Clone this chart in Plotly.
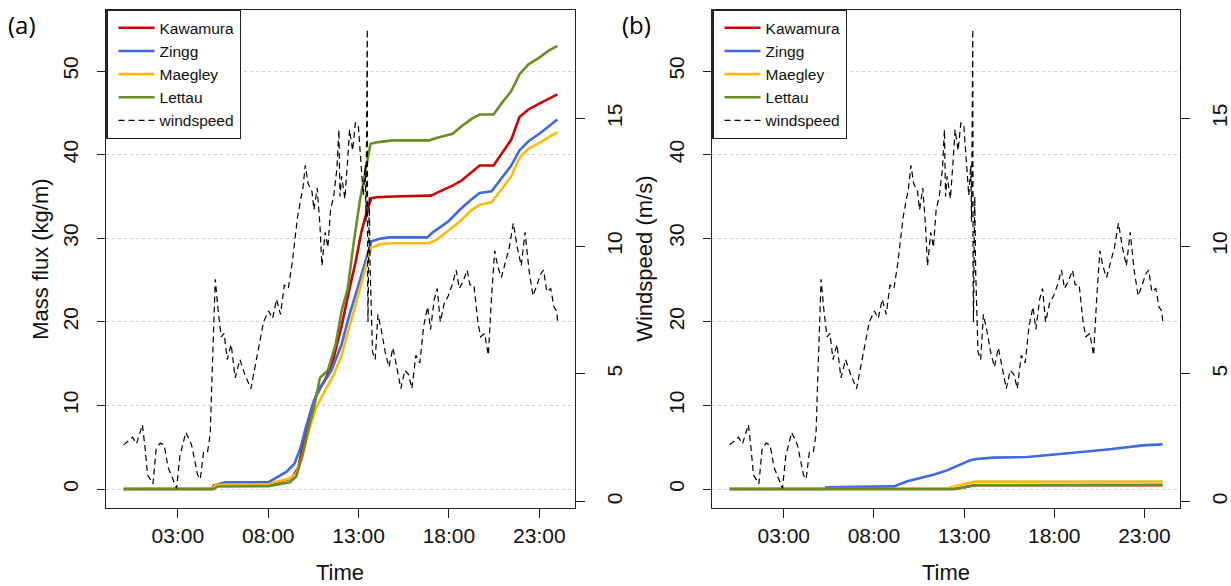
import plotly.graph_objects as go

W, H = 1231, 586

# ---------------- data ----------------
wind_t = [0.00, 0.27, 0.49, 0.71, 0.88, 1.04, 1.19, 1.32, 1.62, 1.80, 2.02, 2.24, 2.46, 2.78, 2.93,
          3.11, 3.44, 3.76, 4.09, 4.24, 4.42, 4.64, 4.79, 4.86, 4.97, 5.07, 5.23, 5.40, 5.56, 5.73,
          5.95, 6.17, 6.43, 6.71, 7.04, 7.30, 7.52, 7.74, 8.02, 8.24, 8.46, 8.68, 8.89, 9.11, 9.33,
          9.49, 9.62, 9.77, 9.92, 10.05, 10.21, 10.42, 10.53, 10.71, 10.86, 10.97, 11.15, 11.30,
          11.45, 11.63, 11.80, 11.91, 11.97, 12.06, 12.24, 12.39, 12.50, 12.67, 12.82, 12.98, 13.15,
          13.26, 13.37, 13.41, 13.46, 13.48, 13.50, 13.52, 13.59, 13.64, 13.77, 13.92, 14.07, 14.25,
          14.47, 14.68, 14.90, 15.12, 15.34, 15.56, 15.77, 15.95, 16.17, 16.39, 16.60, 16.82, 16.98,
          17.19, 17.35, 17.52, 17.74, 17.96, 18.18, 18.40, 18.57, 18.79, 19.01, 19.16, 19.38, 19.60,
          19.75, 19.97, 20.18, 20.36, 20.53, 20.69, 20.90, 21.12, 21.34, 21.56, 21.78, 22.00, 22.21,
          22.43, 22.65, 22.87, 23.09, 23.24, 23.41, 23.63, 23.81, 23.96, 24.02]
wind_v = [2.22, 2.39, 2.52, 2.26, 2.65, 3.01, 2.06, 1.05, 0.69, 2.06, 2.29, 2.22, 1.34, 0.82, 0.52,
          1.77, 2.71, 2.22, 1.05, 0.88, 1.93, 1.93, 2.65, 4.25, 6.45, 8.70, 7.46, 6.45, 6.58, 5.56,
          6.15, 4.84, 5.56, 4.97, 4.42, 5.43, 6.31, 7.03, 7.46, 7.17, 7.92, 7.33, 8.48, 8.34, 9.36,
          10.24, 11.13, 11.72, 12.27, 13.16, 12.44, 12.14, 11.42, 12.27, 10.83, 9.23, 10.54, 9.95,
          11.42, 11.98, 13.02, 14.56, 11.94, 12.73, 11.85, 13.32, 14.56, 13.74, 14.82, 14.76, 12.86,
          11.98, 13.16, 10.96, 16.23, 18.49, 8.67, 7.03, 11.94, 9.06, 5.86, 5.56, 7.33, 6.74,
          5.86, 5.27, 6.02, 5.27, 4.42, 5.14, 4.97, 4.42, 5.73, 5.43, 6.87, 7.62, 6.74,
          7.92, 8.34, 7.03, 7.76, 8.05, 8.48, 9.06, 8.34, 8.64, 9.06, 8.48, 8.48, 7.03,
          6.45, 6.58, 5.73, 8.05, 9.82, 9.23, 8.77, 9.36, 9.95, 10.90, 9.95, 9.23, 10.54,
          9.06, 8.05, 8.48, 8.93, 9.06, 8.21, 8.34, 7.62, 7.46, 7.03]

# panel (a) mass flux
kaw_a_t = [0, 4.9, 5.0, 8.0, 8.8, 9.3, 9.66, 10.0, 10.3, 10.7, 11.2, 11.6, 12.06, 12.5, 12.83, 13.15,
           13.48, 13.7, 14.0, 14.9, 17.0, 17.5, 18.2, 18.7, 19.3, 19.7, 20.47, 20.9, 21.45, 21.9,
           22.4, 23.0, 23.6, 24.0]
kaw_a_v = [0, 0, 0.45, 0.5, 1.0, 1.25, 2.6, 5.7, 8.8, 11.5, 13.3, 15.5, 19.5, 24.0, 27.1, 30.7,
           33.4, 34.8, 34.9, 35.0, 35.1, 35.6, 36.3, 36.9, 38.0, 38.7, 38.7, 40.1, 41.8, 44.5,
           45.4, 46.1, 46.8, 47.2]
zin_a_t = [0, 4.9, 5.1, 5.6, 8.0, 8.35, 9.0, 9.44, 9.77, 10.1, 10.53, 10.97, 11.5, 12.06, 12.5,
           12.94, 13.37, 13.7, 14.1, 14.7, 16.8, 17.1, 17.96, 18.6, 19.27, 19.7, 20.36, 20.9,
           21.45, 21.9, 22.4, 23.0, 23.5, 24.0]
zin_a_v = [0, 0, 0.5, 0.8, 0.8, 1.25, 2.05, 3.0, 4.8, 7.5, 10.6, 12.4, 14.2, 17.3, 20.9,
           24.0, 27.1, 29.6, 29.9, 30.1, 30.1, 30.7, 32.0, 33.4, 34.7, 35.4, 35.6, 37.2,
           38.7, 40.5, 41.6, 42.5, 43.4, 44.2]
mae_a_t = [0, 4.9, 5.1, 8.0, 8.35, 9.2, 9.55, 9.88, 10.2, 10.64, 11.08, 11.63, 12.06, 12.5, 12.94,
           13.37, 13.7, 14.25, 14.9, 16.9, 17.3, 17.96, 18.6, 19.27, 19.7, 20.36, 20.9, 21.45,
           21.9, 22.4, 23.0, 23.5, 24.0]
mae_a_v = [0, 0, 0.5, 0.55, 0.8, 1.25, 1.9, 3.9, 6.6, 9.7, 11.5, 13.7, 16.0, 19.5, 23.1,
           26.2, 28.9, 29.3, 29.4, 29.4, 29.8, 30.9, 32.0, 33.4, 34.0, 34.3, 35.8, 37.4,
           39.6, 40.7, 41.4, 42.1, 42.7]
let_a_t = [0, 5.0, 5.2, 8.0, 9.2, 9.55, 9.88, 10.2, 10.53, 10.86, 11.3, 11.73, 12.06, 12.4, 12.72,
           13.05, 13.37, 13.66, 14.1, 14.9, 16.9, 17.3, 18.2, 18.7, 19.27, 19.7, 20.47, 20.9,
           21.45, 21.9, 22.4, 23.0, 23.5, 24.0]
let_a_v = [0, 0, 0.3, 0.35, 0.8, 1.5, 3.9, 7.0, 9.7, 13.3, 14.2, 17.3, 21.3, 24.0, 29.3,
           34.2, 38.0, 41.3, 41.5, 41.7, 41.7, 42.0, 42.5, 43.4, 44.3, 44.8, 44.8, 46.1,
           47.6, 49.6, 50.8, 51.6, 52.4, 53.0]

# panel (b) mass flux
kaw_b_t = [0, 12.5, 13.6, 24.0]
kaw_b_v = [0, 0, 0.45, 0.45]
zin_b_t = [0, 5.3, 5.35, 9.1, 9.85, 10.6, 11.3, 12.05, 12.8, 13.34, 13.7, 14.6, 16.5, 17.4, 18.3,
           19.2, 20.1, 21.2, 22.2, 22.9, 24.0]
zin_b_v = [0, 0, 0.2, 0.32, 0.92, 1.32, 1.71, 2.23, 2.91, 3.43, 3.59, 3.75, 3.83, 3.99, 4.15,
           4.31, 4.55, 4.78, 5.02, 5.22, 5.34]
mae_b_t = [0, 11.96, 12.6, 13.16, 13.6, 24.0]
mae_b_v = [0, 0, 0.4, 0.64, 0.88, 0.9]
let_b_t = [0, 12.5, 12.8, 13.2, 13.6, 24.0]
let_b_v = [0, 0, 0.12, 0.32, 0.48, 0.52]

tick_hours = [3, 8, 13, 18, 23]
tick_text = ["03:00", "08:00", "13:00", "18:00", "23:00"]
left_ticks = [0, 10, 20, 30, 40, 50]
right_ticks = [0, 5, 10, 15]

names = ["Kawamura", "Zingg", "Maegley", "Lettau"]
colors = ["#CD0000", "#4169E1", "#FFB90F", "#6B8E23"]

FONT = "Liberation Sans, Arial, sans-serif"

fig = go.Figure()

panel_a = [(kaw_a_t, kaw_a_v), (zin_a_t, zin_a_v), (mae_a_t, mae_a_v), (let_a_t, let_a_v)]
panel_b = [(kaw_b_t, kaw_b_v), (zin_b_t, zin_b_v), (mae_b_t, mae_b_v), (let_b_t, let_b_v)]

for (t, v), n, c in zip(panel_a, names, colors):
    fig.add_trace(go.Scatter(x=t, y=v, mode="lines", name=n, line=dict(color=c, width=2.6),
                             xaxis="x", yaxis="y", legend="legend"))
fig.add_trace(go.Scatter(x=wind_t, y=wind_v, mode="lines", name="windspeed",
                         line=dict(color="black", width=1.2, dash="6px,4px"),
                         xaxis="x", yaxis="y2", legend="legend"))

for (t, v), n, c in zip(panel_b, names, colors):
    fig.add_trace(go.Scatter(x=t, y=v, mode="lines", name=n, line=dict(color=c, width=2.6),
                             xaxis="x2", yaxis="y3", legend="legend2"))
fig.add_trace(go.Scatter(x=wind_t, y=wind_v, mode="lines", name="windspeed",
                         line=dict(color="black", width=1.2, dash="6px,4px"),
                         xaxis="x2", yaxis="y4", legend="legend2"))

ydom = [78 / H, 576 / H]
xr = [-0.96, 24.96]
yl = [-2.27, 57.3]
yr = [-0.25, 19.24]

def xax(domain, anchor):
    return dict(domain=domain, anchor=anchor, range=xr, tickmode="array", tickvals=tick_hours,
                ticktext=tick_text, ticks="outside", ticklen=9, tickwidth=1, tickcolor="#222",
                showline=True, mirror=True, linecolor="#222", linewidth=1.2, showgrid=False,
                zeroline=False, tickfont=dict(family=FONT, size=21, color="#111"))

def ylax(domain, anchor):
    return dict(domain=domain, anchor=anchor, range=yl, tickmode="array", tickvals=left_ticks,
                ticks="outside", ticklen=8, tickwidth=1, tickcolor="#222", tickangle=-90,
                showline=True, mirror=True, linecolor="#222", linewidth=1.2, showgrid=True,
                gridcolor="#cfcfcf", griddash="dot", gridwidth=1, zeroline=False,
                ticklabelstandoff=11,
                tickfont=dict(family=FONT, size=21, color="#111"))

def yrax(over, anchor):
    return dict(overlaying=over, anchor=anchor, side="right", range=yr, tickmode="array",
                tickvals=right_ticks, ticks="outside", ticklen=9, tickwidth=1, tickcolor="#222",
                tickangle=-90, showline=False, showgrid=False, zeroline=False,
                ticklabelstandoff=12,
                tickfont=dict(family=FONT, size=21, color="#111"))

leg_common = dict(xanchor="left", yanchor="top", bgcolor="white", bordercolor="#222",
                  borderwidth=1.2, font=dict(family=FONT, size=15.5, color="#111"),
                  itemwidth=36, tracegroupgap=0, indentation=6)

fig.update_layout(
    width=W, height=H, margin=dict(l=0, r=0, t=0, b=0),
    paper_bgcolor="white", plot_bgcolor="white",
    xaxis=xax([107 / W, 578.5 / W], "y"),
    yaxis=ylax(ydom, "x"),
    yaxis2=yrax("y", "x"),
    xaxis2=xax([717 / W, 1187.5 / W], "y3"),
    yaxis3=ylax(ydom, "x2"),
    yaxis4=yrax("y3", "x2"),
    legend=dict(x=107 / W, y=576 / H, **leg_common),
    legend2=dict(x=717 / W, y=576 / H, **leg_common),
    showlegend=True,
)

annots = [
    dict(text="(a)", x=6 / W, y=(H - 25) / H, xanchor="left", yanchor="middle",
         font=dict(family="Open Sans, sans-serif", size=24, color="black")),
    dict(text="(b)", x=624 / W, y=(H - 25) / H, xanchor="left", yanchor="middle",
         font=dict(family="Open Sans, sans-serif", size=24, color="black")),
    dict(text="Mass flux (kg/m)", x=40 / W, y=(H - 259) / H, textangle=-90,
         xanchor="center", yanchor="middle", font=dict(family=FONT, size=22, color="#111")),
    dict(text="Windspeed (m/s)", x=648 / W, y=(H - 259) / H, textangle=-90,
         xanchor="center", yanchor="middle", font=dict(family=FONT, size=22, color="#111")),
    dict(text="Time", x=342 / W, y=(H - 572) / H, xanchor="center", yanchor="middle",
         font=dict(family=FONT, size=22, color="#111")),
    dict(text="Time", x=952 / W, y=(H - 572) / H, xanchor="center", yanchor="middle",
         font=dict(family=FONT, size=22, color="#111")),
]
for a in annots:
    a.update(xref="paper", yref="paper", showarrow=False)
fig.update_layout(annotations=annots)

fig.write_html("out.html")
